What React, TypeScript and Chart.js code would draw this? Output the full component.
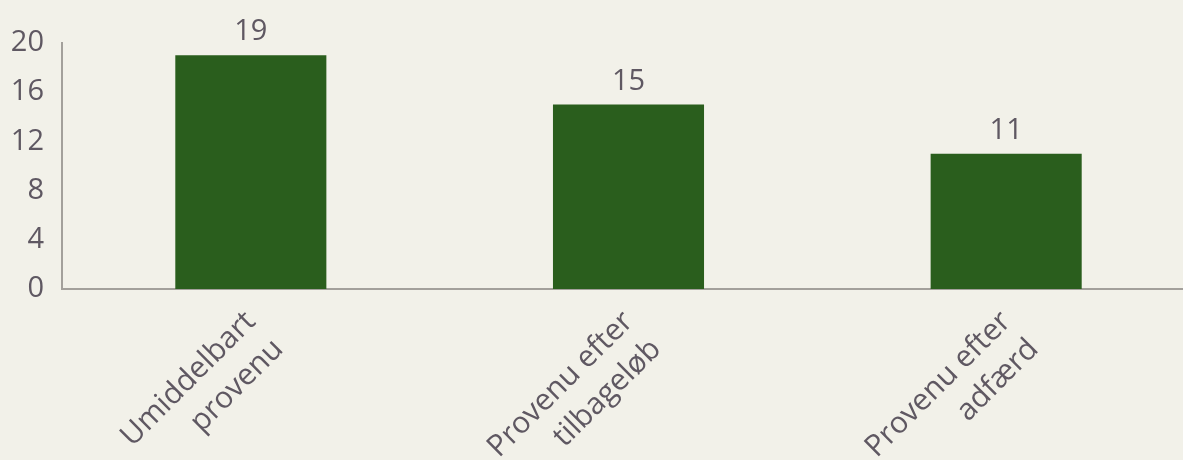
import React, { useEffect, useRef } from "react";
import { Chart, registerables } from "chart.js";

Chart.register(...registerables);

const categories: string[][] = [
  ["Umiddelbart", "provenu"],
  ["Provenu efter", "tilbageløb"],
  ["Provenu efter", "adfærd"],
];
const values: number[] = [19, 15, 11];
const yTicks: number[] = [0, 4, 8, 12, 16, 20];

const BG = "#f2f1e9";
const BAR = "#2a5e1d";
const TEXT = "#5f5862";
const AXIS = "#a3a09b";
const FONT = "'Open Sans'";

const valueLabels = {
  id: "valueLabels",
  afterDatasetsDraw(chart: any) {
    const ctx = chart.ctx;
    const meta = chart.getDatasetMeta(0);
    ctx.save();
    ctx.fillStyle = TEXT;
    ctx.font = `29px ${FONT}`;
    ctx.textAlign = "center";
    ctx.textBaseline = "alphabetic";
    meta.data.forEach((el: any, i: number) => {
      ctx.fillText(String(values[i]), el.x, el.y - 15);
    });
    ctx.restore();
  },
};

export default function App() {
  const ref = useRef<HTMLCanvasElement>(null);
  useEffect(() => {
    document.body.style.margin = "0";
    document.body.style.overflow = "hidden";
    document.body.style.background = BG;
    const chart = new Chart(ref.current!, {
      type: "bar",
      data: {
        labels: categories,
        datasets: [
          {
            data: values,
            backgroundColor: BAR,
            barPercentage: 0.4,
            categoryPercentage: 1,
          },
        ],
      },
      options: {
        animation: false,
        responsive: false,
        maintainAspectRatio: false,
        layout: { padding: { top: 43, left: 0, right: 0, bottom: 0 } },
        plugins: { legend: { display: false }, tooltip: { enabled: false } },
        scales: {
          x: {
            grid: { display: false, drawTicks: false },
            border: { display: true, color: AXIS, width: 2 },
            ticks: {
              color: TEXT,
              font: { family: FONT, size: 30, lineHeight: 1.3 },
              minRotation: 45,
              maxRotation: 45,
              padding: 14,
            },
            afterFit: (s: any) => {
              s.height = 171;
            },
          },
          y: {
            min: 0,
            max: 20,
            afterBuildTicks: (s: any) => {
              s.ticks = yTicks.map((v) => ({ value: v }));
            },
            grid: { display: false, drawTicks: false },
            border: { display: true, color: AXIS, width: 2 },
            ticks: {
              color: TEXT,
              font: { family: FONT, size: 29 },
              padding: 18,
            },
            afterFit: (s: any) => {
              s.width = 62;
            },
          },
        },
      },
      plugins: [valueLabels],
    });
    return () => chart.destroy();
  }, []);
  return (
    <div
      style={{
        position: "fixed",
        left: 0,
        top: 0,
        width: 1183,
        height: 460,
        overflow: "hidden",
        background: BG,
      }}
    >
      <canvas ref={ref} width={1195} height={460} style={{ display: "block" }} />
    </div>
  );
}
